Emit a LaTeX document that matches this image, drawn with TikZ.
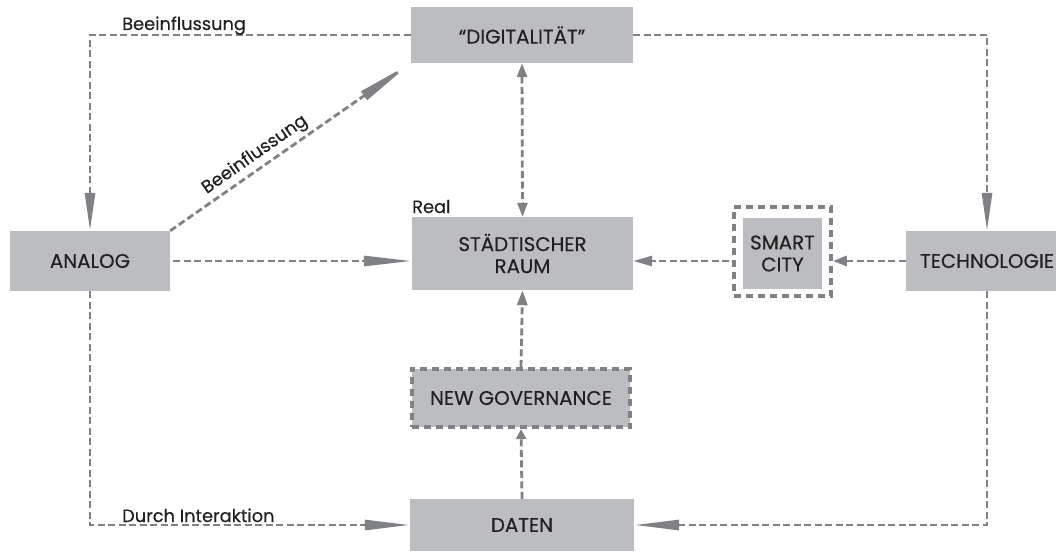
\documentclass[tikz,border=0pt]{standalone}
\usepackage{fontspec}
\setmainfont{Poppins}[FakeBold=0.35]
\usetikzlibrary{arrows.meta}
\definecolor{boxgray}{HTML}{BCBDC0}
\definecolor{linkgray}{HTML}{808184}
\definecolor{inkdark}{HTML}{231F20}
\tikzset{
  box/.style={fill=boxgray, inner sep=0pt, align=center, text=inkdark,
    font=\fontsize{19.8}{22}\selectfont},
  link/.style={draw=linkgray, line width=2.8pt, dash pattern=on 7pt off 3.5pt},
  frame/.style={draw=linkgray, line width=3.6pt, dash pattern=on 7pt off 5pt},
  tip/.style={-{Triangle[length=#1,width=10pt]}},
  lbl/.style={inner sep=0pt, text=inkdark, font=\fontsize{17.8}{20}\selectfont},
}
\begin{document}
\begin{tikzpicture}[x=1pt,y=-1pt]
\useasboundingbox (0,0) rectangle (1056,551);

% boxes
\node[box, minimum width=222pt, minimum height=56pt] (dig) at (522,35) {“DIGITALITÄT”};
\node[box, minimum width=221pt, minimum height=73pt] (city) at (522.5,253.5) {STÄDTISCHER\\RAUM};
\node[box, minimum width=160pt, minimum height=60pt] (analog) at (90,261) {ANALOG};
\node[box, minimum width=162pt, minimum height=60pt] (tech) at (987,261) {TECHNOLOGIE};
\node[frame, minimum width=97pt, minimum height=89pt] (smartframe) at (782.5,251.5) {};
\node[box, minimum width=79pt, minimum height=71pt] (smart) at (782.5,253.5) {SMART\\CITY};
\node[box, frame, minimum width=218.5pt, minimum height=58.5pt] (gov) at (521,398) {NEW GOVERNANCE};
\node[box, minimum width=224pt, minimum height=52pt] (daten) at (522,525) {DATEN};

% connectors
\draw[link, tip=38pt] (dig.west) -| (analog.north);
\draw[link, tip=38pt] (dig.east) -| (tech.north);
\draw[link, tip=57pt] (analog.north east) -- (dig.south west);
\draw[link, {Triangle[length=14pt,width=10pt]}-{Triangle[length=14pt,width=10pt]}] (dig.south) -- (city.north);
\draw[link, tip=48pt, shorten <=3pt] (analog.east) -- (analog.east -| city.west);
\draw[link, tip=14pt] (tech.west) -- (tech.west -| smartframe.east);
\draw[link, tip=19pt, shorten <=3pt] (tech.west -| smartframe.west) -- (tech.west -| city.east);
\draw[link, tip=15pt] (gov.north) -- (city.south);
\draw[link, tip=10pt] (daten.north) -- (gov.south);
\draw[link, tip=45pt] (analog.south) |- (daten.west);
\draw[link, tip=45pt] (tech.south) |- (daten.east);

% labels
\node[lbl, anchor=base west] (inflTop) at (122,30) {Beeinflussung};
\node[lbl, rotate=35] (inflDiag) at (255,155) {Beeinflussung};
\node[lbl, anchor=base west] (real) at (412,213) {Real};
\node[lbl, anchor=base west] (interact) at (122,522) {Durch Interaktion};
\end{tikzpicture}
\end{document}
